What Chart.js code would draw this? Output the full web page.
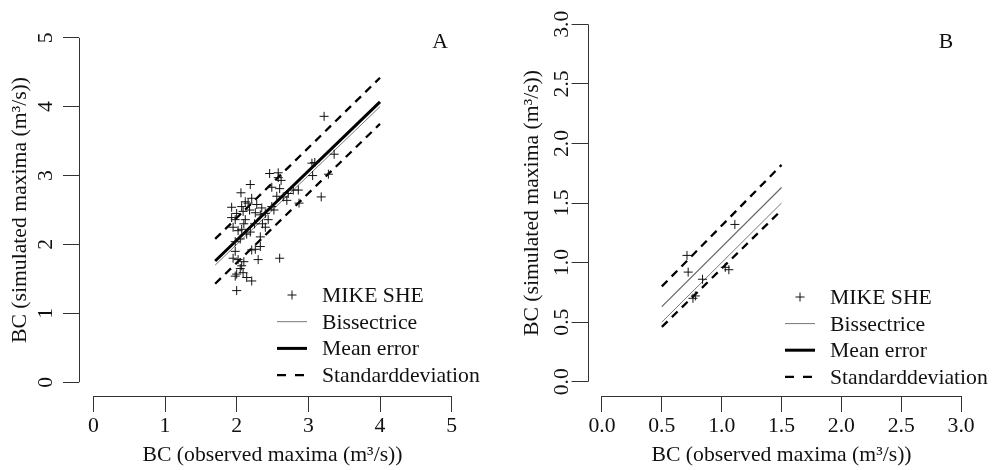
<!DOCTYPE html>
<html>
<head>
<meta charset="utf-8">
<script src="https://cdn.jsdelivr.net/npm/chart.js@4.4.1/dist/chart.umd.min.js"></script>
<style>
  html, body { margin: 0; padding: 0; background: #fff; }
  #wrap { position: relative; width: 1000px; height: 470px; }
  .panel { position: absolute; top: 0; width: 500px; height: 470px; }
</style>
</head>
<body>
<div id="wrap">
  <div class="panel" style="left:0"><canvas id="chartA" width="500" height="470"></canvas></div>
  <div class="panel" style="left:500px"><canvas id="chartB" width="500" height="470"></canvas></div>
</div>
<script>
// Panel A - observed vs simulated maxima (m3/s)
const obsA = [3.22, 3.36, 3.05, 3.09, 3.06, 3.28, 3.18, 2.87, 2.86, 2.79,
              2.46, 2.58, 2.58, 2.49, 2.60, 2.19, 2.06, 2.21, 2.16, 2.07,
              1.93, 2.09, 2.26, 2.33, 1.93, 1.98, 2.12, 2.44, 2.49, 2.35,
              2.65, 2.70, 2.40, 2.02, 2.07, 2.14, 2.19, 2.05, 1.98, 2.33,
              2.21, 2.26, 2.33, 2.30, 2.60, 1.98, 1.95, 2.02, 2.07, 2.00,
              1.98, 2.09, 2.14, 2.21, 2.00, 2.00, 2.10, 2.25, 2.40, 2.52,
              2.56, 2.62, 2.72, 2.10, 2.05, 2.18, 1.95, 2.36, 2.12, 2.28];
const simA = [3.86, 3.31, 3.18, 3.19, 3.00, 3.02, 2.69, 2.60, 2.79, 2.79,
              3.03, 3.04, 2.97, 2.83, 2.81, 2.87, 2.75, 2.67, 2.60, 2.55,
              2.54, 2.48, 2.46, 2.43, 2.39, 2.36, 2.36, 2.36, 2.55, 2.53,
              2.69, 2.64, 2.25, 2.20, 2.22, 2.15, 2.18, 2.08, 2.04, 2.11,
              1.92, 1.93, 1.97, 1.78, 1.80, 1.90, 1.80, 1.78, 1.69, 1.57,
              1.54, 1.59, 1.52, 1.47, 1.33, 2.45, 2.30, 2.30, 2.45, 2.50,
              2.70, 2.93, 2.74, 1.75, 1.65, 2.50, 2.25, 2.30, 2.62, 2.58];
const lineXA = [1.7, 4.0];
const bissA = [1.7, 4.0];
const meanA = [1.76, 4.07];
const sdUpA = [2.08, 4.42];
const sdLoA = [1.43, 3.75];
const ticksA = [0, 1, 2, 3, 4, 5];

// Panel B
const obsB = [0.71, 0.72, 0.84, 0.78, 0.76, 1.06, 1.03, 1.11];
const simB = [1.06, 0.92, 0.86, 0.72, 0.70, 0.94, 0.96, 1.32];
const lineXB = [0.5, 1.5];
const bissB = [0.5, 1.5];
const meanB = [0.63, 1.63];
const sdUpB = [0.80, 1.82];
const sdLoB = [0.46, 1.44];
const ticksB = [0, 0.5, 1, 1.5, 2, 2.5, 3];

const FONT = "'Liberation Serif', 'Times New Roman', serif";
const FONT_SIZE = 21.7;
const INK = '#111';

function pairs(xs, ys) {
  return xs.map((x, i) => ({ x: x, y: ys[i] }));
}

function makeDatasets(obs, sim, lx, biss, mean, up, lo, meanWidth, meanColor) {
  const sd = { borderColor: '#000', borderWidth: 2.3, borderDash: [8, 6], pointRadius: 0, showLine: true, fill: false };
  return [
    { label: 'MIKE SHE', data: pairs(obs, sim), pointStyle: 'cross', pointRadius: 4.5,
      borderColor: INK, borderWidth: 1, showLine: false },
    { label: 'Bissectrice', data: pairs(lx, biss), borderColor: '#777', borderWidth: 1,
      pointRadius: 0, showLine: true, legend: { width: 1, color: '#777' } },
    { label: 'Mean error', data: pairs(lx, mean), borderColor: meanColor, borderWidth: meanWidth,
      pointRadius: 0, showLine: true, legend: { width: 3, color: '#000' } },
    Object.assign({ label: 'Standarddeviation', data: pairs(lx, up), legend: { width: 2.3, color: '#000', dash: [9, 9] } }, sd),
    Object.assign({ label: '', data: pairs(lx, lo), legend: null }, sd)
  ];
}

function makeScales(min, max, ticks, decimals, yWidth, yTickPad, yTitlePad) {
  const font = { family: FONT, size: FONT_SIZE };
  const base = () => ({
    type: 'linear',
    min: min,
    max: max,
    afterBuildTicks: s => { s.ticks = ticks.map(v => ({ value: v })); },
    border: { display: false },
    grid: { display: true, drawOnChartArea: false, drawTicks: true, tickLength: 16, color: '#333', lineWidth: 1 },
    ticks: { font: font, color: INK, callback: v => v.toFixed(decimals) }
  });
  const x = base();
  x.ticks.padding = 1;
  x.title = { display: true, text: 'BC (observed maxima (m³/s))', font: font, color: INK, padding: { top: 0, bottom: 2 } };
  x.afterFit = s => { s.height = 74; };
  const y = base();
  Object.assign(y.ticks, { minRotation: 90, maxRotation: 90, crossAlign: 'center', padding: yTickPad });
  y.title = { display: true, text: 'BC (simulated maxima (m³/s))', font: font, color: INK, padding: { top: yTitlePad, bottom: 0 } };
  y.afterFit = s => { s.width = yWidth; };
  return { x: x, y: y };
}

// R-style detached axis lines, panel letter and legend
const sketchExtras = {
  id: 'sketchExtras',
  afterDraw(chart, args, opts) {
    const ctx = chart.ctx;
    const xs = chart.scales.x, ys = chart.scales.y;
    const t = opts.ticks;
    const area = chart.chartArea;
    ctx.save();
    ctx.strokeStyle = '#333';
    ctx.lineWidth = 1;
    const yb = Math.round(area.bottom) + 0.5;
    ctx.beginPath();
    ctx.moveTo(xs.getPixelForValue(t[0]), yb);
    ctx.lineTo(xs.getPixelForValue(t[t.length - 1]), yb);
    ctx.stroke();
    const xl = Math.round(area.left) + 0.5;
    ctx.beginPath();
    ctx.moveTo(xl, ys.getPixelForValue(t[0]));
    ctx.lineTo(xl, ys.getPixelForValue(t[t.length - 1]));
    ctx.stroke();

    ctx.font = FONT_SIZE + 'px ' + FONT;
    ctx.fillStyle = INK;
    ctx.textAlign = 'center';
    ctx.textBaseline = 'middle';
    ctx.fillText(opts.letter, opts.letterX, opts.letterY);

    // legend
    ctx.textAlign = 'left';
    ctx.textBaseline = 'alphabetic';
    let row = 0;
    chart.data.datasets.forEach(ds => {
      if (!ds.label) return;
      const y = opts.rowY + row * opts.rowGap;
      const x0 = opts.sampleX;
      ctx.save();
      if (ds.pointStyle === 'cross') {
        const cx = x0 + 15;
        ctx.strokeStyle = INK;
        ctx.lineWidth = 1;
        ctx.beginPath();
        ctx.moveTo(cx - 4.5, y); ctx.lineTo(cx + 4.5, y);
        ctx.moveTo(cx, y - 4.5); ctx.lineTo(cx, y + 4.5);
        ctx.stroke();
      } else {
        const lg = ds.legend;
        ctx.strokeStyle = lg.color;
        ctx.lineWidth = lg.width;
        ctx.setLineDash(lg.dash || []);
        ctx.beginPath();
        ctx.moveTo(x0, y); ctx.lineTo(x0 + 30, y);
        ctx.stroke();
      }
      ctx.restore();
      ctx.fillText(ds.label, opts.textX, y + 7);
      row++;
    });
    ctx.restore();
  }
};

function makeChart(id, datasets, scales, padRight, extras) {
  return new Chart(document.getElementById(id), {
    type: 'scatter',
    data: { datasets: datasets },
    options: {
      responsive: false,
      animation: false,
      devicePixelRatio: 1,
      layout: { padding: { top: 10, right: padRight, left: 0, bottom: 0 } },
      scales: scales,
      plugins: {
        legend: { display: false },
        tooltip: { enabled: false },
        sketchExtras: extras
      }
    },
    plugins: [sketchExtras]
  });
}

makeChart('chartA',
  makeDatasets(obsA, simA, lineXA, bissA, meanA, sdUpA, sdLoA, 3, '#000'),
  makeScales(-0.2, 5.2, ticksA, 0, 79, 11, 7),
  34,
  { ticks: ticksA, letter: 'A', letterX: 440, letterY: 42,
    sampleX: 277, textX: 322, rowY: 295, rowGap: 26.7 });

makeChart('chartB',
  makeDatasets(obsB, simB, lineXB, bissB, meanB, sdUpB, sdLoB, 1.2, '#666'),
  makeScales(-0.12, 3.12, ticksB, 1, 87.6, -4, 19),
  24.5,
  { ticks: ticksB, letter: 'B', letterX: 446, letterY: 42,
    sampleX: 285, textX: 330, rowY: 297, rowGap: 26.6 });
</script>
</body>
</html>
